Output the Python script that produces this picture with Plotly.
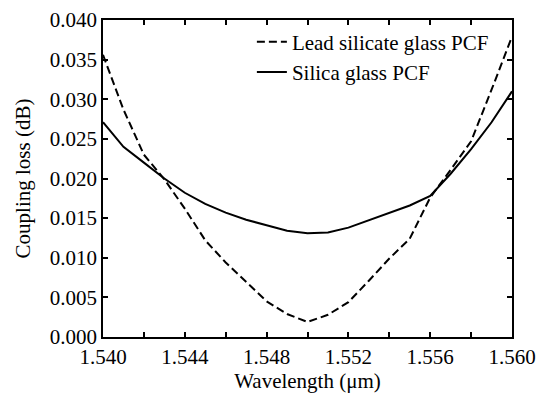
import plotly.graph_objects as go

wavelength = [1.540, 1.541, 1.542, 1.543, 1.544, 1.545, 1.546, 1.547, 1.548, 1.549, 1.550,
              1.551, 1.552, 1.553, 1.554, 1.555, 1.556, 1.557, 1.558, 1.559, 1.560]
lead_silicate = [0.0356, 0.0287, 0.0230, 0.0199, 0.0162, 0.0122, 0.0094, 0.0070, 0.0045, 0.0029, 0.0019,
                 0.0028, 0.0044, 0.0071, 0.0099, 0.0124, 0.0176, 0.0211, 0.0247, 0.0312, 0.0379]
silica = [0.0271, 0.0240, 0.0220, 0.0200, 0.0182, 0.0168, 0.0157, 0.0148, 0.0141, 0.0134, 0.0131,
          0.0132, 0.0138, 0.0147, 0.0156, 0.0166, 0.0178, 0.0206, 0.0237, 0.0271, 0.0310]

x_tickvals = [1.540, 1.542, 1.544, 1.546, 1.548, 1.550, 1.552, 1.554, 1.556, 1.558, 1.560]
x_ticktext = ["1.540", "", "1.544", "", "1.548", "", "1.552", "", "1.556", "", "1.560"]
y_tickvals = [0.000, 0.005, 0.010, 0.015, 0.020, 0.025, 0.030, 0.035, 0.040]
y_ticktext = ["0.000", "0.005", "0.010", "0.015", "0.020", "0.025", "0.030", "0.035", "0.040"]

font = "Liberation Serif, Times New Roman, serif"
fsize = 21

fig = go.Figure()
fig.add_trace(go.Scatter(x=wavelength, y=lead_silicate, mode="lines",
                         name="Lead silicate glass PCF",
                         line=dict(color="black", width=2, dash="8px,4px")))
fig.add_trace(go.Scatter(x=wavelength, y=silica, mode="lines",
                         name="Silica glass PCF",
                         line=dict(color="black", width=2)))

axis_common = dict(showline=True, linecolor="black", linewidth=1.5, mirror="ticks",
                   ticks="inside", ticklen=5, tickcolor="black", tickwidth=1.5,
                   showgrid=False, zeroline=False, automargin=False,
                   tickfont=dict(family=font, size=fsize, color="black"))

fig.update_xaxes(range=[1.540, 1.560], tickvals=x_tickvals, ticktext=x_ticktext,
                 title=dict(text="Wavelength (μm)", font=dict(family=font, size=fsize, color="black"),
                            standoff=1),
                 **axis_common)
fig.update_yaxes(range=[0.0, 0.040], tickvals=y_tickvals, ticktext=y_ticktext,
                 title=dict(text="Coupling loss (dB)", font=dict(family=font, size=fsize, color="black"),
                            standoff=13),
                 **axis_common)

fig.update_layout(
    width=539, height=386,
    margin=dict(l=95, r=35, t=12, b=57),
    plot_bgcolor="white", paper_bgcolor="white",
    showlegend=True,
    legend=dict(x=0.364, y=0.995, xanchor="left", yanchor="top",
                bgcolor="rgba(0,0,0,0)", borderwidth=0,
                font=dict(family=font, size=fsize, color="black"),
                tracegroupgap=0, itemwidth=30),
)

fig.write_html("out.html")
